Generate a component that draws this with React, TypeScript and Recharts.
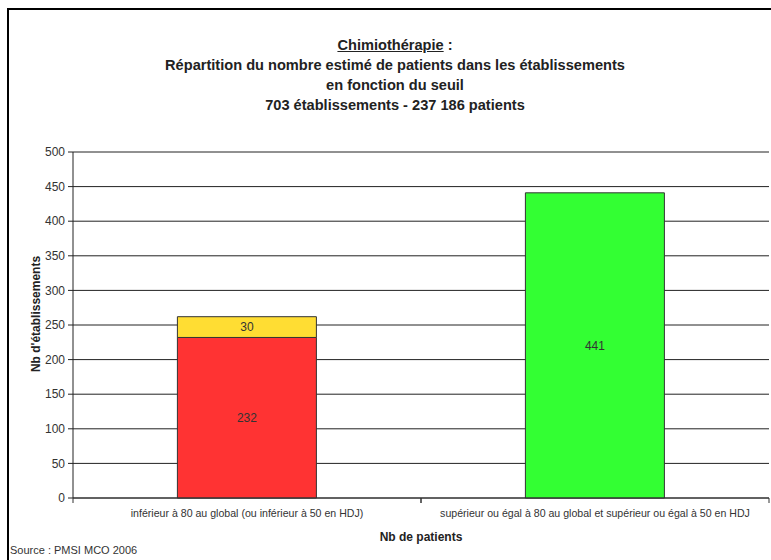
import { BarChart, Bar, XAxis, YAxis, CartesianGrid, LabelList } from "recharts";

const categories = [
  "inférieur à 80 au global (ou inférieur à 50 en HDJ)",
  "supérieur ou égal à 80 au global et supérieur ou égal à 50 en HDJ",
];
const redValues = [232, null];
const yellowValues = [30, null];
const greenValues = [null, 441];
const yTicks = [0, 50, 100, 150, 200, 250, 300, 350, 400, 450, 500];

const data = categories.map((name, i) => ({
  name,
  red: redValues[i],
  yellow: yellowValues[i],
  green: greenValues[i],
}));

const FONT = "'Liberation Sans', Arial, sans-serif";
const TICK_SIZE = 6;
const TICK_MARGIN = 5;

const labelStyle = { fontSize: 12, fill: "#333", fontFamily: FONT };

// category label plus Excel-style separator marks at the band edges
function CategoryTick(props: any) {
  const { x, y, payload } = props;
  const axisY = y - TICK_SIZE - TICK_MARGIN;
  const half = payload.offset ?? 0;
  return (
    <g>
      <line x1={x - half} x2={x - half} y1={axisY} y2={axisY + 5} stroke="#333" />
      <line x1={x + half} x2={x + half} y1={axisY} y2={axisY + 5} stroke="#333" />
      <text
        x={x}
        y={y}
        dy="0.71em"
        textAnchor="middle"
        fontSize={10.6}
        fill="#333"
        fontFamily={FONT}
      >
        {payload.value}
      </text>
    </g>
  );
}

export default function App() {
  return (
    <div
      style={{
        position: "fixed",
        left: 0,
        top: 0,
        width: 771,
        height: 560,
        overflow: "hidden",
        background: "#fff",
        fontFamily: FONT,
      }}
    >
      <div
        style={{
          position: "absolute",
          left: 7,
          top: 8,
          width: 900,
          height: 700,
          border: "2px solid #000",
        }}
      />
      <div
        style={{
          position: "absolute",
          left: 0,
          top: 35,
          width: 790,
          textAlign: "center",
          fontSize: 14.6,
          fontWeight: "bold",
          color: "#222",
          lineHeight: "20px",
        }}
      >
        <div>
          <span style={{ textDecoration: "underline" }}>Chimiothérapie</span> :
        </div>
        <div>Répartition du nombre estimé de patients dans les établissements</div>
        <div>en fonction du seuil</div>
        <div>703 établissements - 237 186 patients</div>
      </div>
      <div
        style={{
          position: "absolute",
          left: 36,
          top: 314,
          transform: "translate(-50%, -50%) rotate(-90deg)",
          whiteSpace: "nowrap",
          fontSize: 12,
          fontWeight: "bold",
          color: "#222",
        }}
      >
        Nb d'établissements
      </div>
      <div
        style={{
          position: "absolute",
          left: 421,
          top: 530,
          transform: "translateX(-50%)",
          fontSize: 12,
          fontWeight: "bold",
          color: "#222",
        }}
      >
        Nb de patients
      </div>
      <div style={{ position: "absolute", left: 10, top: 544, fontSize: 11, color: "#333" }}>
        Source : PMSI MCO 2006
      </div>
      <div style={{ position: "absolute", left: 0, top: 0 }}>
        <BarChart
          width={771}
          height={560}
          data={data}
          margin={{ top: 152, right: 2, bottom: 0, left: 0 }}
          barCategoryGap="30%"
        >
          <CartesianGrid horizontal vertical={false} stroke="#222" />
          <XAxis
            dataKey="name"
            height={62}
            stroke="#333"
            tickLine={false}
            tickSize={TICK_SIZE}
            tickMargin={TICK_MARGIN}
            tick={<CategoryTick />}
            interval={0}
          />
          <YAxis
            width={73}
            domain={[0, 500]}
            ticks={yTicks}
            stroke="#222"
            tickSize={5}
            tickMargin={3}
            tick={{ fontSize: 12, fill: "#333", fontFamily: FONT }}
          />
          <Bar dataKey="red" stackId="a" fill="#FF3333" stroke="#333" isAnimationActive={false}>
            <LabelList dataKey="red" position="center" style={labelStyle} />
          </Bar>
          <Bar dataKey="yellow" stackId="a" fill="#FFDD33" stroke="#333" isAnimationActive={false}>
            <LabelList dataKey="yellow" position="center" style={labelStyle} />
          </Bar>
          <Bar dataKey="green" stackId="a" fill="#33FF33" stroke="#333" isAnimationActive={false}>
            <LabelList dataKey="green" position="center" style={labelStyle} />
          </Bar>
        </BarChart>
      </div>
    </div>
  );
}
